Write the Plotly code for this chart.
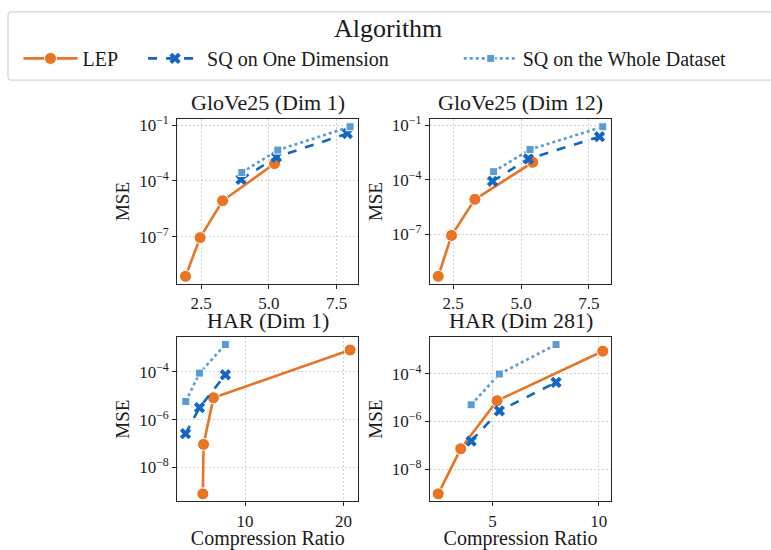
import plotly.graph_objects as go
import math

# ---------------- data ----------------
series_names = ["LEP", "SQ on One Dimension", "SQ on the Whole Dataset"]
panel_titles = ["GloVe25 (Dim 1)", "GloVe25 (Dim 12)", "HAR (Dim 1)", "HAR (Dim 281)"]
legend_title = "Algorithm"

glove1_lep_x = [1.92, 2.46, 3.29, 5.21]
glove1_lep_y = [7.4e-10, 8.9e-8, 8.5e-6, 8.5e-4]
glove1_sq1_x = [3.97, 5.28, 7.90]
glove1_sq1_y = [1.2e-4, 1.9e-3, 3.5e-2]
glove1_sqw_x = [4.00, 5.33, 8.00]
glove1_sqw_y = [2.8e-4, 4.5e-3, 8.1e-2]

glove12_lep_x = [1.95, 2.44, 3.30, 5.43]
glove12_lep_y = [5.1e-10, 8.9e-8, 8.5e-6, 9.1e-4]
glove12_sq1_x = [3.95, 5.27, 7.89]
glove12_sq1_y = [8.3e-5, 1.4e-3, 2.3e-2]
glove12_sqw_x = [3.99, 5.33, 8.01]
glove12_sqw_y = [2.8e-4, 4.6e-3, 8.1e-2]

har1_lep_x = [5.71, 5.78, 6.79, 20.67]
har1_lep_y = [7.9e-10, 9.3e-8, 8.3e-6, 8.3e-4]
har1_sq1_x = [3.95, 5.37, 8.00]
har1_sq1_y = [2.6e-7, 3.2e-6, 7.6e-5]
har1_sqw_x = [3.98, 5.37, 8.00]
har1_sqw_y = [5.8e-6, 8.9e-5, 1.4e-3]

har281_lep_x = [2.44, 3.50, 5.21, 10.19]
har281_lep_y = [9.1e-10, 7.1e-8, 7.4e-6, 8.9e-4]
har281_sq1_x = [3.99, 5.32, 7.99]
har281_sq1_y = [1.5e-7, 2.8e-6, 4.4e-5]
har281_sqw_x = [3.99, 5.32, 7.99]
har281_sqw_y = [5.0e-6, 9.8e-5, 1.7e-3]

glove_xticks = [2.5, 5.0, 7.5]
glove_xticklabels = ["2.5", "5.0", "7.5"]
har1_xticks = [10, 20]
har1_xticklabels = ["10", "20"]
har281_xticks = [5, 10]
har281_xticklabels = ["5", "10"]
glove_yticks = [1e-1, 1e-4, 1e-7]
glove_yticklabels = ["10<sup>\u22121</sup>", "10<sup>\u22124</sup>", "10<sup>\u22127</sup>"]
har_yticks = [1e-4, 1e-6, 1e-8]
har_yticklabels = ["10<sup>\u22124</sup>", "10<sup>\u22126</sup>", "10<sup>\u22128</sup>"]

panels = [
    dict(title=panel_titles[0], data=[(glove1_lep_x, glove1_lep_y), (glove1_sq1_x, glove1_sq1_y), (glove1_sqw_x, glove1_sqw_y)],
         xt=glove_xticks, xtl=glove_xticklabels, yt=glove_yticks, ytl=glove_yticklabels, xlabel=False),
    dict(title=panel_titles[1], data=[(glove12_lep_x, glove12_lep_y), (glove12_sq1_x, glove12_sq1_y), (glove12_sqw_x, glove12_sqw_y)],
         xt=glove_xticks, xtl=glove_xticklabels, yt=glove_yticks, ytl=glove_yticklabels, xlabel=False),
    dict(title=panel_titles[2], data=[(har1_lep_x, har1_lep_y), (har1_sq1_x, har1_sq1_y), (har1_sqw_x, har1_sqw_y)],
         xt=har1_xticks, xtl=har1_xticklabels, yt=har_yticks, ytl=har_yticklabels, xlabel=True),
    dict(title=panel_titles[3], data=[(har281_lep_x, har281_lep_y), (har281_sq1_x, har281_sq1_y), (har281_sqw_x, har281_sqw_y)],
         xt=har281_xticks, xtl=har281_xticklabels, yt=har_yticks, ytl=har_yticklabels, xlabel=True),
]

# ---------------- styling ----------------
FONT = "Liberation Serif"
colors = ["#E87424", "#1266C4", "#5B9BD3"]
dashes = ["solid", "dash", "dot"]
symbols = ["circle", "x", "square"]
msizes = [12, 10, 8]
NB = "\u00a0"
legend_labels = [series_names[0] + NB * 4, series_names[1] + NB * 13, series_names[2] + NB * 2]

W, H = 771, 550
xdom = [[177.3 / W, 358.3 / W], [430.0 / W, 611.0 / W]]
ydom = [[1 - 280.9 / H, 1 - 114.5 / H], [1 - 500.8 / H, 1 - 334.7 / H]]

fig = go.Figure()
layout = {}
annotations = []
for i, p in enumerate(panels):
    sfx = "" if i == 0 else str(i + 1)
    xa, ya = "x" + sfx, "y" + sfx
    allx, ally = [], []
    for s, (xs, ys) in enumerate(p["data"]):
        allx += xs
        ally += ys
        fig.add_trace(go.Scatter(
            x=xs, y=ys, xaxis=xa, yaxis=ya, mode="lines+markers",
            name=legend_labels[s], legendgroup=series_names[s], showlegend=(i == 0),
            line=dict(color=colors[s], width=2.6, dash=dashes[s]),
            marker=dict(symbol=symbols[s], size=msizes[s], color=colors[s],
                        line=dict(color="white", width=(1 if s != 1 else 0))),
        ))
    xmin, xmax = min(allx), max(allx)
    pad = 0.05 * (xmax - xmin)
    lmin, lmax = math.log10(min(ally)), math.log10(max(ally))
    lpad = 0.05 * (lmax - lmin)
    col, row = i % 2, i // 2
    common = dict(showline=True, mirror=True, linecolor="#262626", linewidth=1.2,
                  showgrid=True, gridcolor="#d0d0d0", griddash="2px,2px", gridwidth=1,
                  ticks="outside", ticklen=4, tickcolor="#262626", zeroline=False,
                  tickfont=dict(family=FONT, size=17, color="#1a1a1a"))
    layout["xaxis" + sfx] = dict(common, domain=xdom[col], anchor=ya, range=[xmin - pad, xmax + pad],
                                 tickmode="array", tickvals=p["xt"], ticktext=p["xtl"],
                                 title=dict(text="Compression Ratio" if p["xlabel"] else "",
                                            font=dict(family=FONT, size=20, color="#1a1a1a"), standoff=0))
    layout["yaxis" + sfx] = dict(common, domain=ydom[row], anchor=xa, type="log",
                                 range=[lmin - lpad, lmax + lpad],
                                 tickmode="array", tickvals=p["yt"], ticktext=p["ytl"],
                                 title=dict(text="MSE", font=dict(family=FONT, size=19, color="#1a1a1a"), standoff=4))
    annotations.append(dict(text=p["title"], xref="paper", yref="paper",
                            x=(xdom[col][0] + xdom[col][1]) / 2, y=ydom[row][1],
                            xanchor="center", yanchor="bottom", yshift=2, showarrow=False,
                            font=dict(family=FONT, size=22, color="#1a1a1a")))

# legend title as annotation, centred over the legend frame
annotations.append(dict(text=legend_title, xref="paper", yref="paper", x=388 / W, y=1 - 23 / H,
                        xanchor="center", yanchor="middle", showarrow=False,
                        font=dict(family=FONT, size=26, color="#1a1a1a")))

# rounded legend frame (decoration)
L, T, R, B, r = 8 / W, 1 - 6 / H, 790 / W, 1 - 75 / H, 4
rx, ry = r / W, r / H
frame = (f"M {L+rx},{T} L {R-rx},{T} Q {R},{T} {R},{T-ry} L {R},{B+ry} Q {R},{B} {R-rx},{B} "
         f"L {L+rx},{B} Q {L},{B} {L},{B+ry} L {L},{T-ry} Q {L},{T} {L+rx},{T} Z")

fig.update_layout(
    **layout,
    annotations=annotations,
    shapes=[dict(type="path", path=frame, xref="paper", yref="paper",
                 line=dict(color="#d4d4d4", width=1.2), fillcolor="rgba(0,0,0,0)", layer="below")],
    width=W, height=H,
    margin=dict(l=0, r=0, t=0, b=0),
    paper_bgcolor="white", plot_bgcolor="white",
    font=dict(family=FONT, color="#1a1a1a"),
    showlegend=True,
    legend=dict(orientation="h", x=0.024, y=1 - 53 / H, xanchor="left", yanchor="middle",
                borderwidth=0, bgcolor="rgba(0,0,0,0)",
                font=dict(family=FONT, size=20, color="#1a1a1a"),
                itemwidth=54, tracegroupgap=0),
)

fig.write_html("out.html", config={"displayModeBar": False},
               post_script="document.body.style.margin='0';document.body.style.overflow='hidden';")
